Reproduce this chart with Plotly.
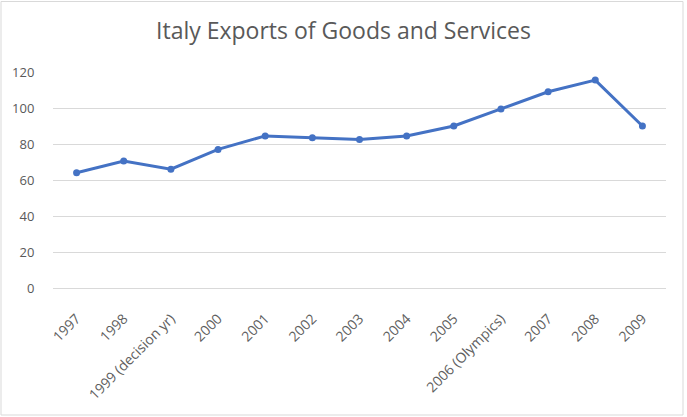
import plotly.graph_objects as go

categories = ["1997", "1998", "1999 (decision yr)", "2000", "2001", "2002", "2003",
              "2004", "2005", "2006 (Olympics)", "2007", "2008", "2009"]
exports = [64, 70.5, 66, 77, 84.5, 83.5, 82.5, 84.5, 90, 99.5, 109, 115.5, 90]
y_ticks = [0, 20, 40, 60, 80, 100, 120]

W, H = 687, 417
L, R, T, B = 53, 21, 72, 129
pw, ph = W - L - R, H - T - B

fig = go.Figure()
fig.add_trace(go.Scatter(
    x=categories, y=exports, mode="lines+markers",
    line=dict(color="#4472C4", width=3),
    marker=dict(color="#4472C4", size=7),
    showlegend=False, cliponaxis=False,
))

def px_x(p):
    return (p - L) / pw

def px_y(p):
    return (H - B - p) / ph

fig.add_shape(type="rect", xref="paper", yref="paper",
              x0=px_x(1), x1=px_x(683), y0=px_y(415), y1=px_y(1.5),
              line=dict(color="#d9d9d9", width=1), fillcolor="rgba(0,0,0,0)", layer="below")

fig.update_layout(
    width=W, height=H,
    margin=dict(l=L, r=R, t=T, b=B),
    paper_bgcolor="white", plot_bgcolor="white",
    title=dict(text="Italy Exports of Goods and Services",
               x=0.5, xref="container", xanchor="center",
               y=1 - 31 / H, yref="container", yanchor="middle",
               font=dict(family="Open Sans", size=23, color="#595959")),
    font=dict(family="Open Sans", color="#595959", size=13),
    xaxis=dict(
        type="category", tickangle=-45, showgrid=False,
        showline=True, linecolor="#d9d9d9", linewidth=1,
        ticks="outside", ticklen=16, tickcolor="rgba(0,0,0,0)",
        tickfont=dict(size=14, color="#606060"),
        range=[-0.5, len(categories) - 0.5],
    ),
    yaxis=dict(
        range=[0, 120], tickvals=y_ticks,
        showgrid=True, gridcolor="#d9d9d9", gridwidth=1,
        zeroline=False, showline=False,
        ticks="outside", ticklen=15, tickcolor="rgba(0,0,0,0)",
        tickfont=dict(size=13, color="#595959"),
    ),
)

fig.write_html("out.html")
